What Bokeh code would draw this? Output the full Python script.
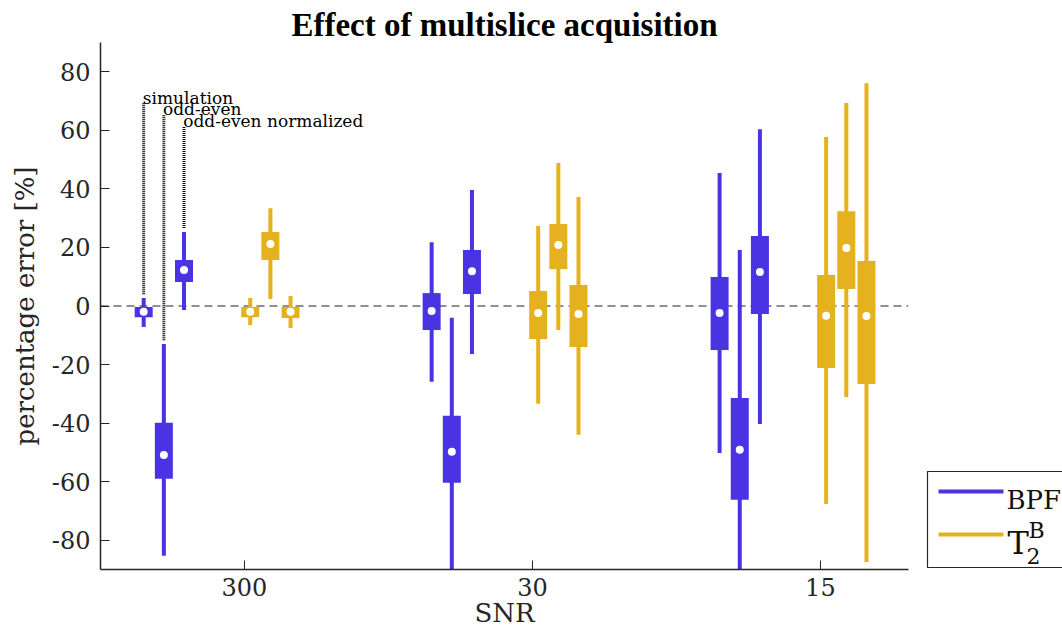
import numpy as np
from bokeh.plotting import figure
from bokeh.layouts import row
from bokeh.models import Range1d, Span, Label, FixedTicker
from bokeh.core.properties import value
from bokeh.embed import file_html
from bokeh.resources import INLINE

# ---------------- data ----------------
snr_labels = ["300", "30", "15"]
methods = ["simulation", "odd-even", "odd-even normalized"]

# order: (300: sim, oe, norm), (30: sim, oe, norm), (15: sim, oe, norm)
bpf_lo  = [-7.2, -85.3, -1.4,   -25.9, -95.0, -16.4,   -50.2, -95.0, -40.3]
bpf_q1  = [-3.8, -59.0,  8.2,    -8.2, -60.4,   4.1,   -15.0, -66.2,  -2.7]
bpf_med = [-2.0, -50.9, 12.3,    -1.7, -49.8,  11.9,    -2.4, -49.1,  11.6]
bpf_q3  = [-0.3, -39.9, 15.7,     4.4, -37.5,  19.1,     9.9, -31.4,  23.9]
bpf_hi  = [ 2.7, -13.0, 25.3,    21.8,  -4.0,  39.6,    45.4,  19.1,  60.4]

t2_lo  = [-6.5,  2.4, -7.5,   -33.4, -8.2, -44.0,   -67.6, -31.1, -87.4]
t2_q1  = [-3.8, 15.7, -4.1,   -11.3, 12.6, -14.0,   -21.2,   5.8, -26.6]
t2_med = [-2.0, 21.2, -2.0,    -2.4, 20.8,  -2.7,    -3.3,  19.8,  -3.4]
t2_q3  = [-0.3, 25.3, -0.3,     5.1, 28.0,   7.2,    10.6,  32.4,  15.4]
t2_hi  = [ 2.7, 33.4,  3.4,    27.3, 48.8,  37.2,    57.7,  69.3,  76.1]

y_ticks = [-80, -60, -40, -20, 0, 20, 40, 60, 80]

BLUE = "#4933E3"
YELLOW = "#E5B11F"
FONT = "DejaVu Serif"
TFONT = "Liberation Serif"

group_pos = [1, 2, 3]
blue_off = [-0.35, -0.28, -0.21]
yel_off = [0.02, 0.09, 0.16]

bx = [g + o for g in group_pos for o in blue_off]
yx = [g + o for g in group_pos for o in yel_off]

p = figure(width=920, height=634, output_backend="svg", toolbar_location=None,
           x_range=Range1d(0.5, 3.306), y_range=Range1d(-90, 90),
           min_border_left=100, min_border_right=12, min_border_top=42,
           min_border_bottom=65)
p.outline_line_color = None
p.grid.visible = False
p.background_fill_color = "white"
p.border_fill_color = "white"

p.title.text = "Effect of multislice acquisition"
p.title.align = "center"
p.title.text_font = TFONT
p.title.text_font_size = "33px"
p.title.text_font_style = "bold"
p.title.text_color = "black"
p.title.standoff = 0

# zero line
p.add_layout(Span(location=0, dimension="width", line_color="#222222",
                  line_width=1.2, line_dash="8 5", level="underlay"))

BOXW = 0.0625
for xs, lo, q1, med, q3, hi, col in [(bx, bpf_lo, bpf_q1, bpf_med, bpf_q3, bpf_hi, BLUE),
                                     (yx, t2_lo, t2_q1, t2_med, t2_q3, t2_hi, YELLOW)]:
    p.segment(x0=xs, y0=lo, x1=xs, y1=hi, line_color=col, line_width=4)
    p.vbar(x=xs, width=BOXW, bottom=q1, top=q3, fill_color=col, line_color=None)
    p.scatter(x=xs, y=med, size=8, fill_color="white", line_color=None)

# annotation leader lines (first group, blue boxes)
ann_top = [69.3, 65.5, 61.4]
ann_text_y = [71.0, 67.2, 63.1]
lx = bx[0:3]
p.segment(x0=lx, y0=[h + 1.3 for h in bpf_hi[0:3]], x1=lx, y1=ann_top,
          line_color="black", line_width=3, line_dash="1 1")
for xx, yy, t in zip(lx, ann_text_y, methods):
    p.add_layout(Label(x=xx - 0.003, y=yy, text=t, text_font=FONT, text_font_size="17px",
                       text_color="black", text_baseline="alphabetic", text_align="left"))

# axes
for ax in (p.xaxis[0], p.yaxis[0]):
    ax.axis_line_color = "#262626"
    ax.axis_line_width = 1.5
    ax.major_tick_line_color = "#262626"
    ax.major_tick_in = 9
    ax.major_tick_out = 0
    ax.minor_tick_line_color = None
    ax.major_label_text_font = FONT
    ax.major_label_text_font_size = "24px"
    ax.major_label_text_color = "#262626"
    ax.axis_label_text_font = FONT
    ax.axis_label_text_font_size = "26px"
    ax.axis_label_text_font_style = "normal"
    ax.axis_label_text_color = "#262626"

p.xaxis.ticker = FixedTicker(ticks=group_pos)
p.xaxis.major_label_overrides = {g: s for g, s in zip(group_pos, snr_labels)}
p.xaxis.axis_label = "SNR"
p.xaxis.major_label_standoff = 8
p.xaxis.axis_label_standoff = -1

p.yaxis.ticker = FixedTicker(ticks=y_ticks)
p.yaxis.major_label_overrides = {t: str(t) for t in y_ticks}
p.yaxis.axis_label = "percentage error [%]"
p.yaxis.major_label_standoff = 10
p.yaxis.axis_label_standoff = 9

# ---------------- legend panel (page-pixel coordinates, x offset 920) ----------------
pl = figure(width=142, height=634, output_backend="svg", toolbar_location=None,
            x_range=Range1d(0, 142), y_range=Range1d(569, 42),
            x_axis_type=None, y_axis_type=None,
            min_border_left=0, min_border_right=0, min_border_top=42, min_border_bottom=65)
pl.outline_line_color = None
pl.background_fill_color = "white"
pl.border_fill_color = "white"

pl.quad(left=7, right=170, top=471, bottom=567, fill_color="white",
        line_color="#262626", line_width=1.2)
pl.segment(x0=[18, 18], y0=[491, 534], x1=[83, 83], y1=[491, 534],
           line_color=[BLUE, YELLOW], line_width=4)
pl.text(x=[86], y=[499], text=["BPF"], text_font=value(FONT),
        text_font_size=value("26px"), text_baseline="alphabetic", text_color="#111111")
pl.text(x=[87], y=[542], text=["T"], text_font=value(FONT),
        text_font_size=value("32px"), text_baseline="alphabetic", text_color="#111111")
pl.text(x=[108], y=[530], text=["B"], text_font=value(FONT),
        text_font_size=value("22px"), text_baseline="alphabetic", text_color="#111111")
pl.text(x=[106], y=[555], text=["2"], text_font=value(FONT),
        text_font_size=value("22px"), text_baseline="alphabetic", text_color="#111111")

layout = row(p, pl, spacing=0)
open("out.html", "w").write(file_html(layout, INLINE))
